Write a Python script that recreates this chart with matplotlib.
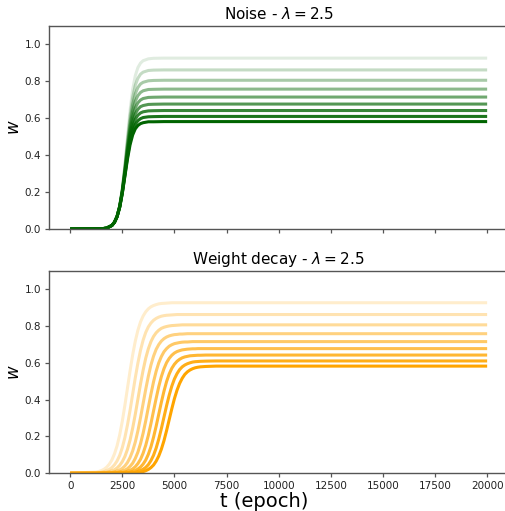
import matplotlib
matplotlib.use("Agg")
import matplotlib.pyplot as plt
import numpy as np

# ---------------- data ----------------
top_title = r"Noise - $\lambda = 2.5$"
bottom_title = r"Weight decay - $\lambda = 2.5$"

t_top = [0, 1500, 1750, 2000, 2125, 2250, 2375, 2500, 2625, 2750, 2875, 3000,
         3125, 3250, 3375, 3500, 3750, 4000, 4500, 20000]

w_top_0 = [0, 0.001, 0.005, 0.019, 0.037, 0.069, 0.126, 0.218, 0.348, 0.500, 0.645, 0.757, 0.831, 0.875, 0.899, 0.912, 0.922, 0.925, 0.926, 0.926]
w_top_1 = [0, 0.001, 0.005, 0.019, 0.037, 0.069, 0.125, 0.214, 0.338, 0.481, 0.613, 0.714, 0.779, 0.817, 0.839, 0.850, 0.859, 0.861, 0.862, 0.862]
w_top_2 = [0, 0.001, 0.005, 0.019, 0.037, 0.069, 0.124, 0.211, 0.329, 0.463, 0.584, 0.675, 0.733, 0.767, 0.786, 0.795, 0.803, 0.805, 0.806, 0.806]
w_top_3 = [0, 0.001, 0.005, 0.019, 0.037, 0.068, 0.123, 0.207, 0.321, 0.447, 0.559, 0.641, 0.693, 0.723, 0.740, 0.749, 0.756, 0.757, 0.758, 0.758]
w_top_4 = [0, 0.001, 0.005, 0.019, 0.036, 0.068, 0.121, 0.204, 0.313, 0.431, 0.535, 0.610, 0.657, 0.684, 0.699, 0.707, 0.713, 0.714, 0.715, 0.715]
w_top_5 = [0, 0.001, 0.005, 0.019, 0.036, 0.067, 0.120, 0.201, 0.306, 0.417, 0.513, 0.582, 0.625, 0.649, 0.663, 0.669, 0.675, 0.676, 0.677, 0.677]
w_top_6 = [0, 0.001, 0.005, 0.019, 0.036, 0.067, 0.119, 0.198, 0.298, 0.404, 0.493, 0.556, 0.595, 0.617, 0.629, 0.635, 0.640, 0.641, 0.642, 0.642]
w_top_7 = [0, 0.001, 0.005, 0.019, 0.036, 0.067, 0.118, 0.194, 0.291, 0.391, 0.474, 0.532, 0.567, 0.587, 0.598, 0.604, 0.608, 0.609, 0.610, 0.610]
w_top_8 = [0, 0.001, 0.005, 0.019, 0.036, 0.066, 0.117, 0.192, 0.285, 0.379, 0.457, 0.510, 0.543, 0.561, 0.571, 0.576, 0.581, 0.581, 0.582, 0.582]

t_bottom = [0,
            1250, 1375, 1500, 1625, 1750, 1875, 2000, 2125, 2250, 2375,
            2500, 2625, 2750, 2875, 3000, 3125, 3250, 3375, 3500, 3625,
            3750, 3875, 4000, 4125, 4250, 4375, 4500, 4625, 4750, 4875,
            5000, 5125, 5250, 5375, 5500, 5625, 5750, 5875, 6000, 6125,
            6250,
            6500, 7000, 20000]

w_bot_0 = [0,
           0.007, 0.010, 0.015, 0.022, 0.033, 0.049, 0.072, 0.105, 0.149, 0.208,
           0.282, 0.369, 0.463, 0.557, 0.644, 0.718, 0.777, 0.822, 0.854, 0.877,
           0.893, 0.904, 0.911, 0.916, 0.920, 0.922, 0.923, 0.924, 0.925, 0.926,
           0.926, 0.926, 0.926, 0.926, 0.926, 0.926, 0.926, 0.926, 0.926, 0.926,
           0.926,
           0.926, 0.926, 0.926]
w_bot_1 = [0,
           0.003, 0.004, 0.006, 0.009, 0.014, 0.021, 0.031, 0.046, 0.067, 0.097,
           0.139, 0.194, 0.263, 0.343, 0.431, 0.519, 0.599, 0.668, 0.723, 0.765,
           0.795, 0.816, 0.831, 0.841, 0.848, 0.853, 0.856, 0.858, 0.859, 0.860,
           0.861, 0.862, 0.862, 0.862, 0.862, 0.862, 0.862, 0.862, 0.862, 0.862,
           0.862,
           0.862, 0.862, 0.862]
w_bot_2 = [0,
           0.001, 0.002, 0.003, 0.004, 0.006, 0.009, 0.013, 0.019, 0.029, 0.043,
           0.063, 0.091, 0.130, 0.181, 0.246, 0.321, 0.403, 0.485, 0.560, 0.625,
           0.676, 0.715, 0.743, 0.763, 0.777, 0.787, 0.793, 0.797, 0.800, 0.802,
           0.803, 0.804, 0.805, 0.806, 0.806, 0.806, 0.806, 0.806, 0.806, 0.806,
           0.806,
           0.806, 0.806, 0.806]
w_bot_3 = [0,
           0.000, 0.001, 0.001, 0.002, 0.002, 0.004, 0.005, 0.008, 0.012, 0.018,
           0.027, 0.040, 0.059, 0.086, 0.122, 0.170, 0.231, 0.302, 0.379, 0.456,
           0.527, 0.588, 0.636, 0.673, 0.699, 0.718, 0.731, 0.740, 0.746, 0.750,
           0.753, 0.754, 0.756, 0.756, 0.757, 0.758, 0.758, 0.758, 0.758, 0.758,
           0.758,
           0.758, 0.758, 0.758]
w_bot_4 = [0,
           0.000, 0.000, 0.000, 0.001, 0.001, 0.001, 0.002, 0.003, 0.005, 0.008,
           0.011, 0.017, 0.025, 0.038, 0.055, 0.081, 0.115, 0.161, 0.218, 0.285,
           0.358, 0.430, 0.497, 0.554, 0.600, 0.634, 0.660, 0.677, 0.690, 0.698,
           0.704, 0.707, 0.710, 0.712, 0.713, 0.713, 0.714, 0.715, 0.715, 0.715,
           0.715,
           0.715, 0.715, 0.715]
w_bot_5 = [0,
           0.000, 0.000, 0.000, 0.000, 0.000, 0.001, 0.001, 0.001, 0.002, 0.003,
           0.005, 0.007, 0.011, 0.016, 0.024, 0.036, 0.053, 0.076, 0.109, 0.152,
           0.206, 0.270, 0.339, 0.407, 0.471, 0.525, 0.568, 0.601, 0.624, 0.641,
           0.653, 0.661, 0.666, 0.670, 0.672, 0.674, 0.675, 0.676, 0.676, 0.677,
           0.677,
           0.677, 0.677, 0.677]
w_bot_6 = [0,
           0.000, 0.000, 0.000, 0.000, 0.000, 0.000, 0.000, 0.001, 0.001, 0.001,
           0.002, 0.003, 0.004, 0.007, 0.010, 0.015, 0.023, 0.034, 0.050, 0.072,
           0.103, 0.144, 0.196, 0.256, 0.321, 0.386, 0.446, 0.498, 0.539, 0.570,
           0.592, 0.608, 0.619, 0.627, 0.632, 0.635, 0.638, 0.639, 0.640, 0.641,
           0.641,
           0.642, 0.642, 0.642]
w_bot_7 = [0,
           0.000, 0.000, 0.000, 0.000, 0.000, 0.000, 0.000, 0.000, 0.000, 0.001,
           0.001, 0.001, 0.002, 0.003, 0.004, 0.006, 0.010, 0.015, 0.022, 0.032,
           0.047, 0.069, 0.098, 0.137, 0.186, 0.243, 0.305, 0.367, 0.424, 0.473,
           0.512, 0.541, 0.563, 0.578, 0.588, 0.595, 0.600, 0.604, 0.606, 0.607,
           0.608,
           0.609, 0.610, 0.610]
w_bot_8 = [0,
           0.000, 0.000, 0.000, 0.000, 0.000, 0.000, 0.000, 0.000, 0.000, 0.000,
           0.000, 0.001, 0.001, 0.001, 0.002, 0.003, 0.004, 0.006, 0.009, 0.014,
           0.021, 0.031, 0.045, 0.066, 0.094, 0.131, 0.177, 0.232, 0.291, 0.350,
           0.405, 0.451, 0.488, 0.516, 0.537, 0.551, 0.561, 0.568, 0.573, 0.576,
           0.578,
           0.580, 0.582, 0.582]

top_series = [w_top_0, w_top_1, w_top_2, w_top_3, w_top_4, w_top_5, w_top_6, w_top_7, w_top_8]
bottom_series = [w_bot_0, w_bot_1, w_bot_2, w_bot_3, w_bot_4, w_bot_5, w_bot_6, w_bot_7, w_bot_8]
alphas_top = [0.12, 0.23, 0.34, 0.45, 0.56, 0.67, 0.78, 0.89, 1.0]
alphas_bottom = [0.2, 0.3, 0.4, 0.5, 0.6, 0.7, 0.8, 0.9, 1.0]

x_ticks = [0, 2500, 5000, 7500, 10000, 12500, 15000, 17500, 20000]
y_ticks = [0.0, 0.2, 0.4, 0.6, 0.8, 1.0]

# ---------------- figure ----------------
W, H = 506, 511
fig = plt.figure(figsize=(W / 100, H / 100), dpi=100)

def px_axes(l, r, t, b):
    return fig.add_axes([l / W, 1 - b / H, (r - l) / W, (b - t) / H])

ax1 = px_axes(49.3, 508, 26, 229)
ax2 = px_axes(49.3, 508, 270.7, 473.3)

spine_col = "#555555"
for ax, series, col, title, alphas in [(ax1, top_series, "darkgreen", top_title, alphas_top),
                                       (ax2, bottom_series, "orange", bottom_title, alphas_bottom)]:
    tt = t_top if ax is ax1 else t_bottom
    for w, a in zip(series, alphas):
        ax.plot(tt, w, color=col, alpha=a, lw=2.2, solid_capstyle="butt")
    ax.set_xlim(-1000, 21000)
    ax.set_ylim(0, 1.1)
    ax.set_xticks(x_ticks)
    ax.set_yticks(y_ticks)
    ax.set_title(title, fontsize=11, pad=5)
    ax.set_ylabel(r"$w$", fontsize=12, labelpad=1)
    for s in ax.spines.values():
        s.set_color(spine_col)
        s.set_linewidth(1.0)
    ax.tick_params(colors=spine_col, labelcolor="#222222", labelsize=7.5,
                   length=2.8, width=0.9, pad=3)

ax1.set_xticklabels([])
ax2.set_xlabel("t (epoch)", fontsize=14)
ax2.xaxis.set_label_coords(0.469, -0.09)

fig.savefig("out.png", dpi=100)
